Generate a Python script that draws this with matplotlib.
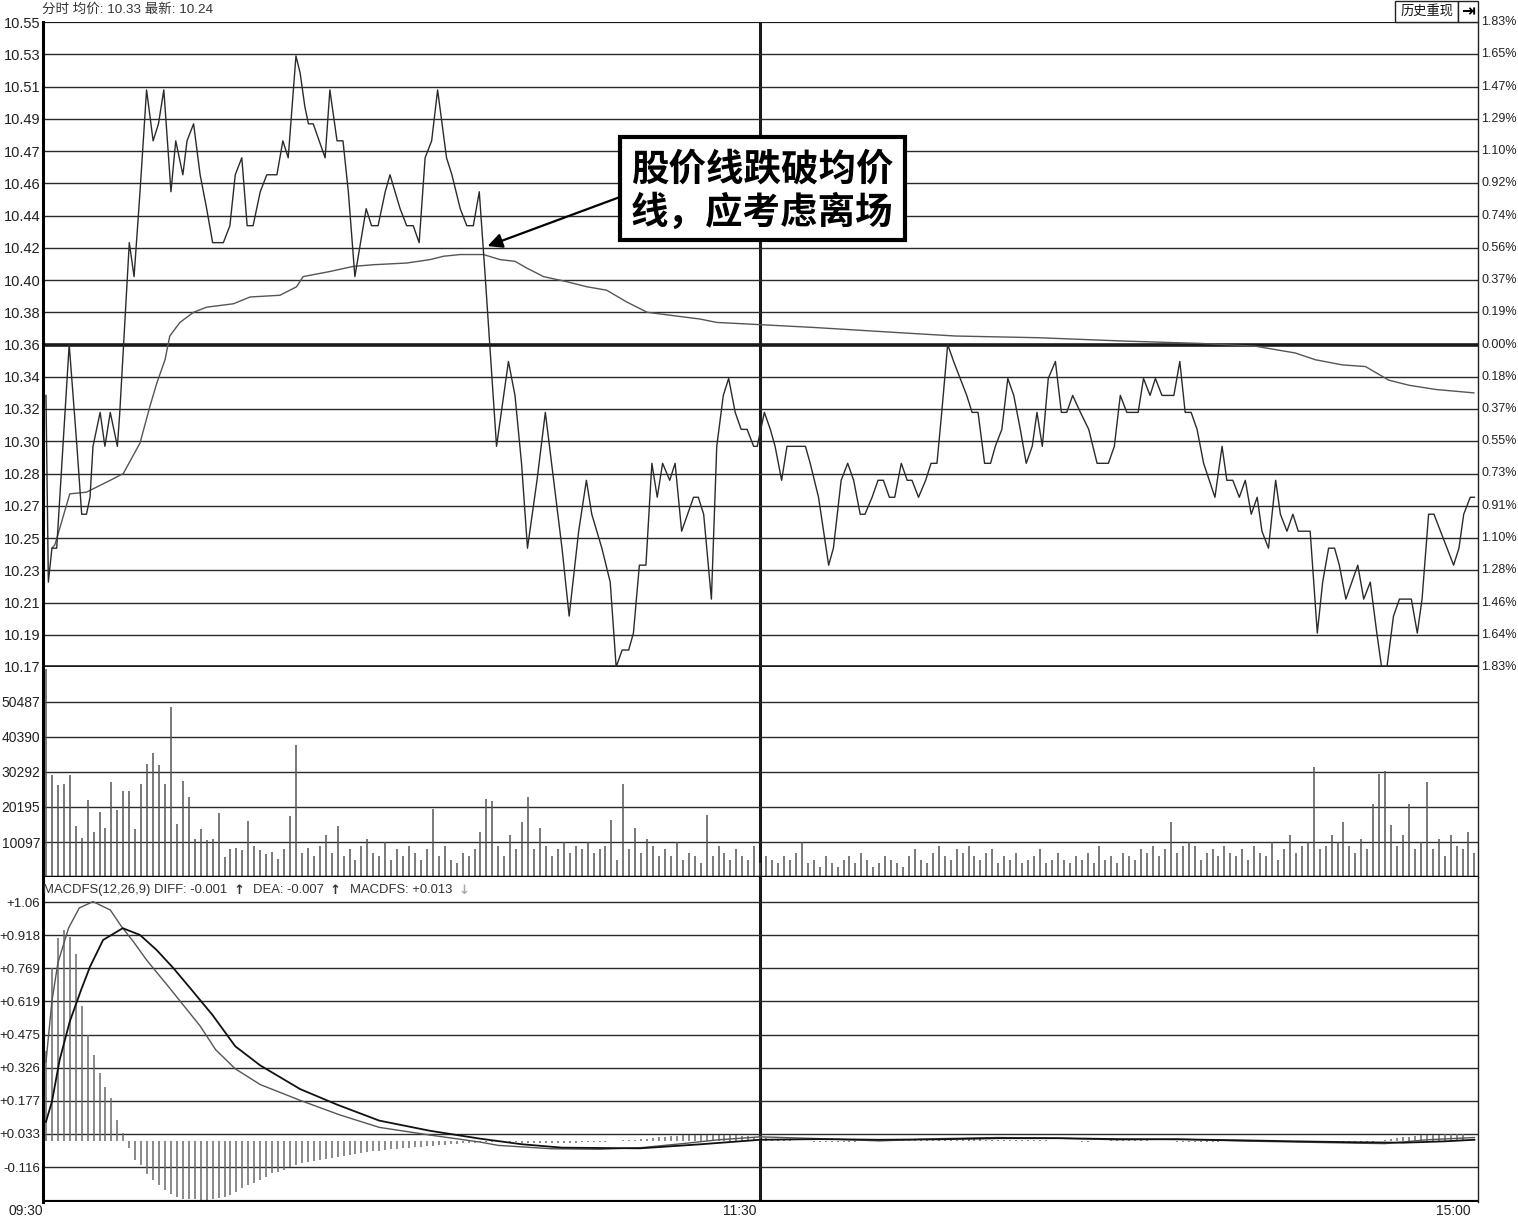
import matplotlib
matplotlib.use('Agg')
import matplotlib.pyplot as plt
import matplotlib.transforms as mtransforms
from matplotlib.patches import Rectangle
import numpy as np

plt.rcParams['font.family'] = ['Liberation Sans', 'Noto Sans CJK SC', 'DejaVu Sans']

# ---------------- data ----------------
price_min = [0, 0.4, 1.0, 1.8, 3.2, 3.9, 5.2, 6.0, 6.8, 7.4, 7.9, 9.1, 9.9, 10.8, 12.0, 12.4,
             14.0, 14.8, 15.2, 15.8, 16.9, 18.0, 18.9, 19.8, 20.6, 21.0, 21.8, 23.0, 23.7, 24.8,
             25.9, 27.0, 28.0, 29.8, 30.9, 31.8, 32.9, 33.8, 34.8, 36.0, 37.1, 38.8, 39.8, 40.7,
             42.0, 42.7, 43.5, 44.1, 44.9, 45.9, 46.9, 47.7, 48.9, 49.9, 50.8, 51.9, 53.8, 54.7,
             55.8, 57.0, 57.8, 59.5, 60.6, 61.7, 62.7, 63.7, 64.8, 65.8, 67.3, 68.2, 69.6, 70.7,
             71.8, 72.8, 73.8, 75.7, 77.7, 78.8, 79.9, 80.9, 82.5, 83.9, 85.3, 86.7, 87.9, 89.5,
             90.8, 91.7, 93.4, 94.8, 95.8, 96.8, 97.9, 98.7, 99.7, 100.8, 101.8, 102.7, 103.6,
             104.8, 105.7, 106.8, 108.8, 109.6, 110.5, 111.8, 112.7, 113.8, 114.7, 115.8, 116.8,
             117.8, 118.9, 119.5, 120.7, 121.7, 122.5, 123.6, 124.5, 127.6, 128.4, 129.8, 131.5,
             132.3, 133.6, 134.7, 135.7, 136.8, 137.6, 138.8, 139.8, 140.7, 141.7, 142.6, 143.7,
             144.7, 145.5, 146.6, 147.8, 148.7, 149.7, 150.5, 151.5, 152.5, 153.6, 154.7, 155.6,
             156.6, 157.7, 158.7, 159.5, 160.6, 161.6, 162.6, 163.7, 164.7, 165.7, 166.5, 167.4,
             168.4, 169.6, 170.6, 171.5, 172.5, 173.8, 175.2, 176.6, 178.5, 179.5, 180.5, 181.6,
             183.5, 184.4, 185.5, 186.4, 187.5, 189.5, 190.5, 191.4, 192.4, 193.4, 194.5, 196.4,
             197.6, 198.4, 199.4, 200.5, 201.5, 202.5, 203.5, 204.3, 205.4, 206.6, 207.4, 208.5,
             209.5, 210.4, 212.4, 213.6, 214.5, 215.5, 216.5, 217.3, 218.4, 220.4, 221.4, 222.5,
             223.6, 224.4, 225.3, 226.4, 227.4, 229.4, 230.4, 231.2, 232.3, 233.2, 234.3, 236.5,
             237.4, 238.2, 239.3, 240.0]
price_val = [10.33, 10.22, 10.24, 10.24, 10.32, 10.36, 10.30, 10.26, 10.26, 10.27, 10.30, 10.32, 10.30, 10.32, 10.30, 10.32,
             10.42, 10.40, 10.42, 10.45, 10.51, 10.48, 10.49, 10.51, 10.47, 10.45, 10.48, 10.46, 10.48, 10.49,
             10.46, 10.44, 10.42, 10.42, 10.43, 10.46, 10.47, 10.43, 10.43, 10.45, 10.46, 10.46, 10.48, 10.47,
             10.53, 10.52, 10.50, 10.49, 10.49, 10.48, 10.47, 10.51, 10.48, 10.48, 10.45, 10.40, 10.44, 10.43,
             10.43, 10.45, 10.46, 10.44, 10.43, 10.43, 10.42, 10.47, 10.48, 10.51, 10.47, 10.46, 10.44, 10.43,
             10.43, 10.45, 10.40, 10.30, 10.35, 10.33, 10.29, 10.24, 10.28, 10.32, 10.28, 10.24, 10.20, 10.25,
             10.28, 10.26, 10.24, 10.22, 10.17, 10.18, 10.18, 10.19, 10.23, 10.23, 10.29, 10.27, 10.29,
             10.28, 10.29, 10.25, 10.27, 10.27, 10.26, 10.21, 10.30, 10.33, 10.34, 10.32, 10.31,
             10.31, 10.30, 10.30, 10.32, 10.31, 10.30, 10.28, 10.30, 10.30, 10.29, 10.27, 10.23,
             10.24, 10.28, 10.29, 10.28, 10.26, 10.26, 10.27, 10.28, 10.28, 10.27, 10.27, 10.29,
             10.28, 10.28, 10.27, 10.28, 10.29, 10.29, 10.32, 10.36, 10.35, 10.34, 10.33, 10.32,
             10.32, 10.29, 10.29, 10.30, 10.31, 10.34, 10.33, 10.31, 10.29, 10.30, 10.32, 10.30,
             10.34, 10.35, 10.32, 10.32, 10.33, 10.32, 10.31, 10.29, 10.29, 10.30, 10.33, 10.32,
             10.32, 10.34, 10.33, 10.34, 10.33, 10.33, 10.35, 10.32, 10.32, 10.31, 10.29, 10.27,
             10.30, 10.28, 10.28, 10.27, 10.28, 10.26, 10.27, 10.25, 10.24, 10.28, 10.26, 10.25,
             10.26, 10.25, 10.25, 10.19, 10.22, 10.24, 10.24, 10.23, 10.21, 10.23, 10.21, 10.22,
             10.19, 10.17, 10.17, 10.20, 10.21, 10.21, 10.19, 10.21, 10.26, 10.26, 10.25, 10.23,
             10.24, 10.26, 10.27, 10.27]

avg_min = [1.0, 1.5, 4.0, 6.8, 10.8, 13.0, 15.8, 17.5, 18.6, 20.0, 20.8, 22.5, 24.8, 27.0, 31.5,
           34.3, 39.3, 42.1, 43.2, 47.7, 51.6, 55.0, 60.6, 64.5, 66.8, 69.6, 73.5, 76.3, 78.8, 80.8,
           83.6, 87.5, 90.9, 94.2, 97.6, 101.0, 105.4, 109.9, 112.7, 118.3, 129.2, 143.2, 152.8,
           166.7, 181.3, 194.2, 203.2, 209.9, 213.3, 217.8, 221.7, 225.6, 229.0, 233.5, 239.9]
avg_val = [10.240, 10.242, 10.272, 10.273, 10.280, 10.284, 10.302, 10.324, 10.337, 10.351, 10.365,
           10.373, 10.379, 10.382, 10.384, 10.388, 10.389, 10.394, 10.400, 10.403, 10.406, 10.407,
           10.408, 10.410, 10.412, 10.413, 10.413, 10.410, 10.409, 10.405, 10.400, 10.397, 10.394,
           10.392, 10.385, 10.379, 10.377, 10.375, 10.373, 10.372, 10.370, 10.367, 10.365, 10.364,
           10.362, 10.3606, 10.359, 10.355, 10.351, 10.348, 10.347, 10.339, 10.336, 10.3335, 10.3315]

volume = [60000, 29540, 26440, 26920, 29540, 14820, 11230, 22280, 13070, 18790,
          14240, 27410, 19370, 24790, 24790, 13850, 26730, 32740, 35830, 32440,
          26920, 48910, 15300, 27700, 23150, 10850, 13850, 10650, 10850, 18500,
          5810, 7940, 8430, 7750, 16270, 9010, 7750, 6590, 7170, 5130,
          8040, 17720,
          38000, 7000, 8500, 6000, 9000, 12000, 7000, 14800, 6000, 8000,
          5000, 9000, 11000, 7000, 6000, 10000, 5000, 8000, 6000, 9000,
          7000, 5000, 8000, 19500, 6000, 9000, 5000, 4000, 7000, 6000,
          8000, 13000, 22400, 22000, 9000, 6000, 12000, 8000, 16000, 23000,
          8000, 14000, 9000, 6000, 8000, 10000, 7000, 9000, 8000, 10000,
          7000, 8000, 9000, 16500, 5000, 26700, 8000, 14000, 7000, 11000,
          9000, 6000, 8000, 6000, 10000, 5000, 7000, 6000, 4000, 18000,
          6000, 9000, 7000, 5000, 8000, 6000, 5000, 9000, 4000, 6000,
          5000, 4000, 6000, 5000, 7000, 10000, 4000, 5000, 3000, 6000,
          4000, 3000, 5000, 6000, 4000, 7000, 5000, 3000, 4000, 6000,
          5000, 4000, 3000, 6000, 8000, 5000, 4000, 7000, 9000, 6000,
          5000, 8000, 7000, 9000, 6000, 5000, 7000, 8000, 4000, 6000,
          5000, 7000, 4000, 5000, 6000, 8000, 4000, 5000, 7000, 5000,
          4000, 6000, 5000, 7000, 4000, 9000, 5000, 6000, 4000, 7000,
          6000, 5000, 8000, 7000, 9000, 6000, 8000, 16000, 7000, 9000,
          10000, 9000, 5000, 7000, 8000, 6000, 9000, 7000, 6000, 8000,
          5000, 9000, 7000, 6000, 10000, 5000, 8000, 12000, 7000, 9000,
          10000, 31700, 8000, 9000, 12000, 10000, 16000, 9000, 7000, 11000,
          8000, 21000, 29600, 30500, 15000, 9000, 12000, 21000, 8000, 10000,
          27300, 8000, 11000, 6000, 12000, 9000, 8000, 13000, 7000]

macdfs = [0.40, 0.766, 0.899, 0.936, 0.906, 0.829, 0.60, 0.47, 0.38, 0.30, 0.24, 0.19, 0.093, 0.035,
          -0.032, -0.085, -0.107, -0.147, -0.174, -0.196, -0.218, -0.236, -0.250, -0.259, -0.259,
          -0.259, -0.262, -0.262, -0.259, -0.255, -0.248, -0.240, -0.225, -0.211, -0.196, -0.186,
          -0.174, -0.159, -0.144, -0.137, -0.129, -0.118, -0.107, -0.100, -0.095, -0.090, -0.085,
          -0.080, -0.075, -0.070, -0.066, -0.062, -0.058, -0.054, -0.050, -0.047, -0.044, -0.041,
          -0.038, -0.035, -0.032, -0.030, -0.027, -0.025, -0.023, -0.021, -0.019, -0.017, -0.015,
          -0.013, -0.011, -0.009, -0.008, -0.006, -0.005, -0.004,
          # m76 - m100
          -0.004, -0.005, -0.006, -0.007, -0.008, -0.009, -0.010, -0.010, -0.010, -0.010, -0.009,
          -0.009, -0.008, -0.008, -0.007, -0.006, -0.005, -0.004, -0.003, -0.002, -0.001, 0.002,
          0.004, 0.006, 0.008,
          # m101 - m120
          0.010, 0.013, 0.016, 0.018, 0.020, 0.022, 0.024, 0.025, 0.026, 0.027, 0.027, 0.027, 0.026,
          0.026, 0.025, 0.024, 0.022, 0.020, 0.018, 0.016,
          # m121 - m240
          0.012, 0.009, 0.006, 0.004, 0.002, 0.001, -0.001, -0.002, -0.003, -0.004, -0.004, -0.005,
          -0.005, -0.004, -0.004, -0.003, -0.002, -0.001, 0.001, 0.002, 0.003, 0.004, 0.005, 0.006,
          0.006, 0.007, 0.007, 0.007, 0.006, 0.006, 0.005, 0.005, 0.006, 0.007, 0.008, 0.008, 0.007,
          0.006, 0.005, 0.004, 0.003, 0.003, 0.004, 0.005, 0.005, 0.004, 0.003, 0.002, 0.001, 0.000,
          -0.001, -0.002, -0.002, -0.003, -0.003, -0.002, -0.001, 0.001, 0.002, 0.003, 0.003, 0.004,
          0.004, 0.003, 0.002, 0.001, 0.000, -0.001, -0.002, -0.003, -0.003, -0.004, -0.004, -0.005,
          -0.005, -0.004, -0.003, -0.002, -0.001, -0.001, -0.002, -0.003, -0.004, -0.005, -0.006,
          -0.006, -0.007, -0.007, -0.006, -0.005, -0.004, -0.003, -0.002, -0.003, -0.005, -0.007,
          -0.009, -0.010, -0.011, -0.010, -0.008, -0.006, -0.003, 0.000, 0.004, 0.008, 0.012, 0.016,
          0.019, 0.022, 0.024, 0.026, 0.027, 0.028, 0.029, 0.030, 0.031, 0.032]

diff_min = [0, 1, 2, 3.8, 5.6, 7.9, 10.8, 12.7, 14.7, 16.9, 20.6, 25.9, 28.5, 31.8, 36, 42.7, 49.4,
            56, 64.5, 72.9, 76, 85, 93, 100, 107, 113, 120, 130, 140, 150, 160, 170, 180, 190, 200,
            210, 220, 225, 232, 240]
diff_val = [0.35, 0.62, 0.79, 0.945, 1.034, 1.062, 1.025, 0.951, 0.884, 0.803, 0.684, 0.51, 0.405,
            0.32, 0.25, 0.18, 0.115, 0.06, 0.026, -0.005, -0.02, -0.035, -0.037, -0.03, -0.012, 0.005,
            0.018, 0.01, 0.0, 0.01, 0.015, 0.012, 0.005, 0.008, 0.0, -0.005, -0.01, -0.012, 0.005,
            0.015]
dea_min = [0, 1, 2.3, 4, 5.9, 7.4, 9.6, 12.9, 15.8, 18.6, 21.4, 24.2, 28, 31.8, 36, 42.7, 49, 56,
           64.5, 72.9, 80, 86.7, 99.8, 110, 120, 130, 140, 150, 160, 170, 180, 190, 200, 210, 220,
           228, 235, 240]
dea_val = [0.085, 0.174, 0.36, 0.53, 0.67, 0.773, 0.892, 0.944, 0.914, 0.847, 0.767, 0.679, 0.558,
           0.42, 0.335, 0.23, 0.16, 0.09, 0.045, 0.01, -0.015, -0.03, -0.033, -0.015, 0.005, 0.008,
           0.005, 0.007, 0.012, 0.012, 0.008, 0.007, 0.003, -0.002, -0.006, -0.008, -0.002, 0.005]

price_labels = ['10.17', '10.19', '10.21', '10.23', '10.25', '10.27', '10.28', '10.30', '10.32', '10.34',
                '10.36', '10.38', '10.40', '10.42', '10.44', '10.46', '10.47', '10.49', '10.51', '10.53', '10.55']
pct_labels = ['1.83%', '1.64%', '1.46%', '1.28%', '1.10%', '0.91%', '0.73%', '0.55%', '0.37%', '0.18%',
              '0.00%', '0.19%', '0.37%', '0.56%', '0.74%', '0.92%', '1.10%', '1.29%', '1.47%', '1.65%', '1.83%']
vol_ticks = [10097, 20195, 30292, 40390, 50487]
macd_labels = ['-0.116', '+0.033', '+0.177', '+0.326', '+0.475', '+0.619', '+0.769', '+0.918', '+1.06']
time_labels = ['09:30', '11:30', '15:00']
time_minutes = [0, 120, 240]

# ---------------- layout ----------------
W, H = 1518, 1218
fig = plt.figure(figsize=(W / 100, H / 100), dpi=100)
fig.patch.set_facecolor('white')


def rect(x0, y0, x1, y1):
    return [x0 / W, 1 - y1 / H, (x1 - x0) / W, (y1 - y0) / H]


XL = (-0.5, 240.6)
ax_p = fig.add_axes(rect(43, 22, 1478, 667))
ax_v = fig.add_axes(rect(43, 667, 1478, 877))
ax_m = fig.add_axes(rect(43, 877, 1478, 1202))

GRID = '#2a2a2a'
TXT = '#222222'

for ax in (ax_p, ax_v, ax_m):
    ax.set_xlim(*XL)
    ax.set_xticks([])
    ax.tick_params(axis='y', length=0, pad=2, labelcolor=TXT)
    for s in ('top', 'bottom'):
        ax.spines[s].set_visible(False)
    ax.spines['left'].set_linewidth(2.2)
    ax.spines['left'].set_color('black')
    ax.spines['right'].set_linewidth(1.0)
    ax.spines['right'].set_color('#222222')
    ax.axvline(120, color='#1a1a1a', lw=2.2, zorder=1)

# price panel
ax_p.set_ylim(10.17, 10.55)
ptick = np.linspace(10.17, 10.55, len(price_labels))
ax_p.set_yticks(ptick)
ax_p.set_yticklabels(price_labels)
ax_p.tick_params(axis='y', labelsize=10.5)
for i, y in enumerate(ptick):
    lw = 1.0
    if i == 10 or i == 0:
        lw = 2.6
    elif i == len(ptick) - 1:
        lw = 1.6
    ax_p.axhline(y, color='#1a1a1a' if lw > 1.5 else GRID, lw=lw, zorder=1)
tr = mtransforms.blended_transform_factory(ax_p.transAxes, ax_p.transData)
for y, lab in zip(ptick, pct_labels):
    ax_p.text(1.0021, y, lab, transform=tr, ha='left', va='center', fontsize=9, color=TXT)

ax_p.plot(avg_min, avg_val, color='#555555', lw=1.0, zorder=3)
ax_p.plot(price_min, price_val, color='#2b2b2b', lw=1.0, zorder=4)

# volume panel
ax_v.set_ylim(0, 60584)
ax_v.set_yticks(vol_ticks)
ax_v.set_yticklabels([str(v) for v in vol_ticks])
ax_v.tick_params(axis='y', labelsize=10)
for v in vol_ticks:
    ax_v.axhline(v, color=GRID, lw=1.0, zorder=1)
ax_v.axhline(0, color='black', lw=2.5, zorder=5)
ax_v.vlines(np.arange(len(volume)), 0, volume, color='#555555', lw=1.1, zorder=3)

# macd panel
macd_ticks = np.linspace(-0.116, 1.06, len(macd_labels))
ax_m.set_ylim(-0.2712, 1.1713)
ax_m.set_yticks(macd_ticks)
ax_m.set_yticklabels(macd_labels)
ax_m.tick_params(axis='y', labelsize=9.5)
for v in macd_ticks:
    ax_m.axhline(v, color=GRID, lw=1.0, zorder=1)
ax_m.axhline(-0.2712, color='black', lw=3, zorder=5)
ax_m.vlines(np.arange(len(macdfs)), 0, macdfs, color='#6a6a6a', lw=1.1, zorder=2)
ax_m.plot(diff_min, diff_val, color='#555555', lw=1.0, zorder=3)
ax_m.plot(dea_min, dea_val, color='#111111', lw=1.3, zorder=4)


def ftxt(x, y, s, **kw):
    return fig.text(x / W, 1 - y / H, s, **kw)


# header
ftxt(42, 10, '分时 均价: 10.33 最新: 10.24', fontsize=9.7, color='#333333', va='center', ha='left')

# button top right
fig.patches.append(Rectangle((1395 / W, 1 - 22 / H), 63 / W, 21 / H, transform=fig.transFigure,
                             facecolor='white', edgecolor='#222222', lw=1.0))
fig.patches.append(Rectangle((1458 / W, 1 - 22 / H), 20 / W, 21 / H, transform=fig.transFigure,
                             facecolor='white', edgecolor='#222222', lw=1.0))
ftxt(1427, 11, '历史重现', fontsize=9.5, color='#111111', va='center', ha='center')
ftxt(1468, 11, '⇥', fontsize=12, color='black', va='center', ha='center',
     family='DejaVu Sans', weight='bold')

# MACD header, pieces laid out one after another
renderer = fig.canvas.get_renderer()
pieces = [('MACDFS(12,26,9) DIFF: -0.001', '#333333', 6),
          ('↑', '#333333', 9),
          ('DEA: -0.007', '#333333', 6),
          ('↑', '#333333', 9),
          ('MACDFS: +0.013', '#333333', 6),
          ('↓', '#aaaaaa', 0)]
xcur = 43
for s, c, gap in pieces:
    kw = dict(fontsize=9.4, color=c, va='center', ha='left')
    if s in ('↑', '↓'):
        kw['family'] = ['DejaVu Sans']
        kw['weight'] = 'bold'
    t = ftxt(xcur, 890, s, **kw)
    bb = t.get_window_extent(renderer)
    xcur = bb.x1 + gap

# time labels
for m, lab in zip(time_minutes, time_labels):
    xpx = 46 + m * 5.95
    ftxt(xpx - 3, 1211, lab, fontsize=10, color=TXT, va='center', ha='right')

# annotation box
fig.patches.append(Rectangle((620 / W, 1 - 240 / H), 285 / W, 103 / H, transform=fig.transFigure,
                             facecolor='white', edgecolor='black', lw=3, zorder=10))
ftxt(762, 169, '股价线跌破均价', fontsize=27, weight='bold', color='black', va='center', ha='center',
     family=['Noto Sans CJK SC'], zorder=11)
ftxt(762, 212, '线，应考虑离场', fontsize=27, weight='bold', color='black', va='center', ha='center',
     family=['Noto Sans CJK SC'], zorder=11)
ax_p.annotate('', xy=(74.2, 10.418), xycoords='data',
              xytext=(620 / W, 1 - 197 / H), textcoords='figure fraction',
              arrowprops=dict(arrowstyle='-|>', color='black', lw=1.6, mutation_scale=22,
                              shrinkA=0, shrinkB=0), zorder=9)

fig.savefig('out.png', dpi=100, facecolor='white')
